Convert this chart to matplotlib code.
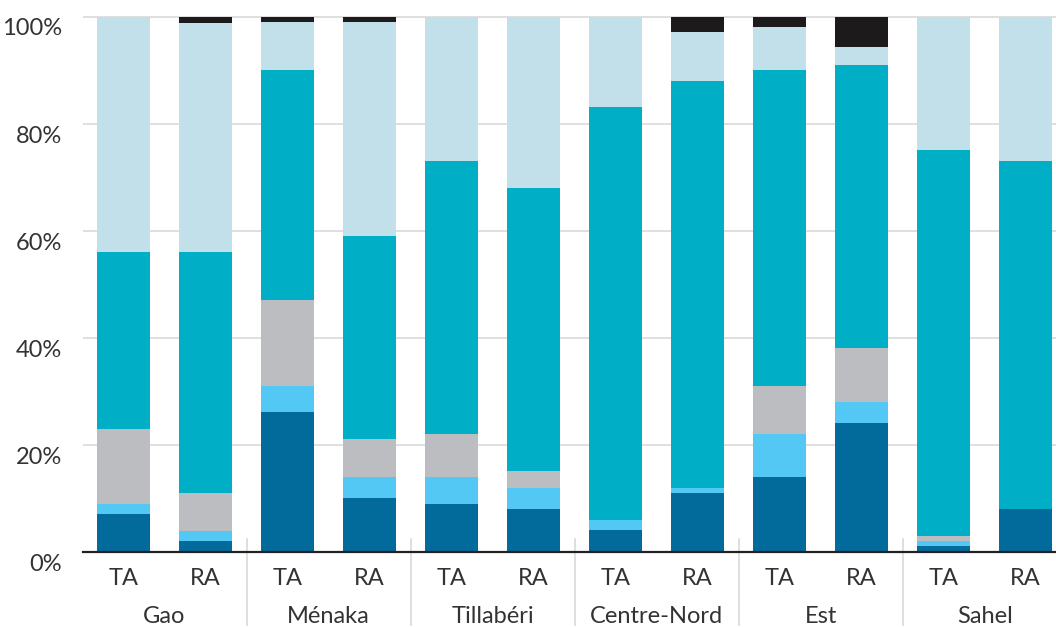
import numpy as np
import matplotlib
matplotlib.use("Agg")
import matplotlib.pyplot as plt
import matplotlib.transforms as mtransforms

# Regions and survey type (TA / RA) per bar
regions = ["Gao", "Ménaka", "Tillabéri", "Centre-Nord", "Est", "Sahel"]
bar_labels = ["TA", "RA"] * 6

# Shares (%) per segment, stacked bottom to top
dark_blue = [7.2, 2.1, 26.2, 10.1, 9.0, 8.1, 4.2, 11.1, 14.1, 24.2, 1.2, 8.1]
light_blue = [1.9, 1.9, 4.9, 4.0, 5.1, 3.9, 1.8, 1.0, 8.0, 3.9, 0.9, 0.0]
grey = [13.9, 7.1, 16.0, 7.1, 8.0, 3.2, 0.0, 0.0, 9.0, 10.1, 0.9, 0.0]
teal = [33.1, 45.0, 43.0, 37.9, 51.0, 52.9, 77.2, 75.9, 59.0, 52.9, 72.2, 65.0]
pale = [43.9, 42.8, 9.0, 40.0, 26.9, 31.9, 16.8, 9.2, 8.0, 3.2, 24.8, 26.9]
black = [0.0, 1.1, 0.9, 0.9, 0.0, 0.0, 0.0, 2.8, 1.9, 5.7, 0.0, 0.0]

series = [dark_blue, light_blue, grey, teal, pale, black]
colors = ["#036b9b", "#53c8f5", "#bcbdc0", "#00aec5", "#c2e0e9", "#1c1a1b"]

plt.rcParams["font.family"] = ["Lato", "DejaVu Sans"]

fig = plt.figure(figsize=(10.56, 6.27), dpi=100)
ax = fig.add_axes([83 / 1056, (627 - 552.3) / 627, (1056 - 83) / 1056, 538 / 627])

x = np.arange(len(bar_labels))
bottom = np.zeros(len(x))
for vals, col in zip(series, colors):
    ax.bar(x, vals, width=0.646, bottom=bottom, color=col, linewidth=0, zorder=2)
    bottom += np.array(vals)

ax.set_xlim(-0.494, 11.37)
ax.set_ylim(0, 100.5)

# grid
ax.set_yticks([0, 20, 40, 60, 80, 100])
ax.set_yticklabels(["0%", "20%", "40%", "60%", "80%", "100%"])
ax.yaxis.grid(True, color="#d9d9d9", linewidth=1.2, zorder=0)
ax.tick_params(axis="y", length=0, pad=15, labelsize=17, labelcolor="#333333")
offset = mtransforms.ScaledTranslation(0, -10 / 100, fig.dpi_scale_trans)
for lbl in ax.get_yticklabels():
    lbl.set_transform(lbl.get_transform() + offset)

ax.set_xticks([])
for s in ["top", "right", "left"]:
    ax.spines[s].set_visible(False)
ax.spines["bottom"].set_color("#222222")
ax.spines["bottom"].set_linewidth(1.6)
ax.spines["bottom"].set_zorder(3)

trans = mtransforms.blended_transform_factory(ax.transData, ax.transAxes)
for xi, lab in zip(x, bar_labels):
    ax.text(xi, -0.0496, lab, transform=trans, ha="center", va="center",
            fontsize=17, color="#333333")
for i, reg in enumerate(regions):
    ax.text(2 * i + 0.5, -0.120, reg, transform=trans, ha="center", va="center",
            fontsize=17, color="#333333")
for i in range(1, len(regions)):
    ax.plot([2 * i - 0.5, 2 * i - 0.5], [0.0247, -0.135], transform=trans,
            color="#d9d9d9", linewidth=1.2, clip_on=False, zorder=1)

fig.savefig("out.png", dpi=100)
